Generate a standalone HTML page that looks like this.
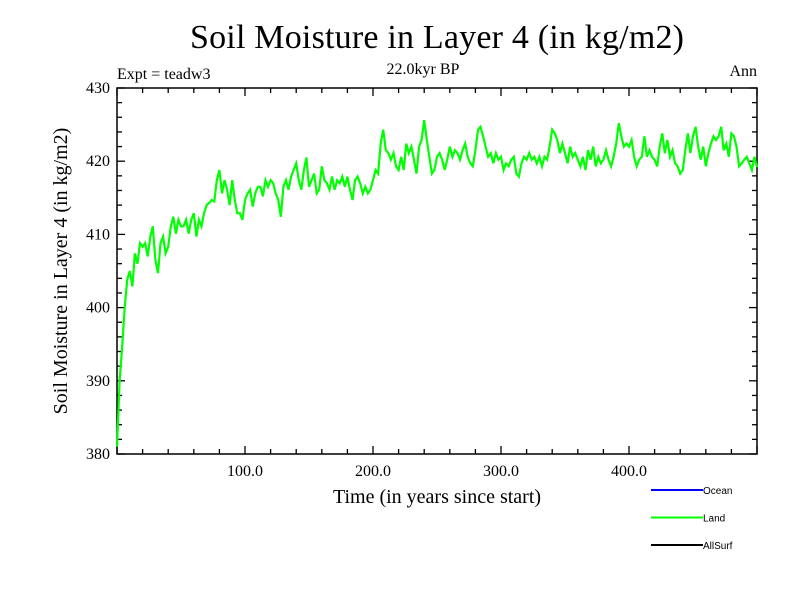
<!DOCTYPE html>
<html><head><meta charset="utf-8"><style>
body{margin:0;background:#fff}
svg text{font-family:"Liberation Serif",serif}
</style></head><body>
<svg id="chart" width="800" height="600" xmlns="http://www.w3.org/2000/svg">
<rect width="800" height="600" fill="#fff"/>
<text x="437" y="48" font-size="34" text-anchor="middle" textLength="494">Soil Moisture in Layer 4 (in kg/m2)</text>
<text x="117" y="79" font-size="16">Expt = teadw3</text>
<text x="423" y="74" font-size="16" text-anchor="middle">22.0kyr BP</text>
<text x="757" y="76" font-size="16" text-anchor="end">Ann</text>
<text x="437" y="503" font-size="20" text-anchor="middle">Time (in years since start)</text>
<text transform="translate(67,271) rotate(-90)" font-size="20" text-anchor="middle">Soil Moisture in Layer 4 (in kg/m2)</text>
<g id="axes"></g>
<g id="series"></g>
<g id="legend"></g>
</svg>
<script>
const years = [];
const land = [381,390,394.5,400,403.8,405,402.9,407.4,406,408.8,408.3,408.8,407,409.7,411.1,406.5,404.7,408.8,409.7,407.4,408.3,411.1,412.4,410.1,412,411.1,411.1,412,410.1,412,412.9,409.7,412,411.1,412.9,414,414.3,414.7,414.5,417.4,418.8,415.6,417.4,416.1,414,417.4,414.7,412.9,412.9,412,414.7,415.6,416.1,413.8,415.6,416.5,416.5,415.2,417.4,416.5,417.4,417,415.6,414.7,412.4,416.5,417.4,416.1,417.9,418.8,419.7,417.4,416.1,418.8,420.5,416.5,417.4,418.3,415.6,416.1,419.3,417.4,417,416.1,417.9,416.1,417.4,417,417.9,416.5,417.9,416.1,414.7,417.4,417.9,417,415.6,416.5,415.6,416.1,417.4,418.8,418.3,422.4,424.3,421.5,421.1,420.2,421.1,419.3,418.8,420.6,418.8,422.4,421.1,422,420.2,418.3,422,422.9,425.6,422.9,420.6,418.3,418.8,420.6,421.1,420.2,418.8,420.2,422,420.6,421.5,421.1,420.2,421.5,422.4,420.6,419.7,419.3,421.5,424.3,424.7,423.4,422,420.6,421.1,419.7,421.1,420.2,420.6,418.8,419.7,419.3,420.2,420.6,418.3,417.9,419.7,420.6,420.2,421.1,420.2,420.6,419.7,420.6,419.3,420.6,420.2,422,424.3,423.8,422.9,421.1,422.4,421.1,419.7,422,420.6,421.1,420.2,419.3,420.6,418.8,421.5,420.2,422,419.3,420.6,419.7,420.2,421.5,420.2,419.3,420.6,422.4,425.2,423.4,422,422.4,422,422.9,420.6,419.3,420.2,420.6,423.4,420.6,421.5,420.6,420.2,419.3,422,423.8,421.1,422.9,420.6,421.5,419.7,419.3,418.3,418.8,421.5,423.8,421.1,423.4,424.7,422,420.2,422,419.3,421.1,422.4,423.4,422.9,423.4,424.7,421.5,422.4,420.6,423.8,423.4,422,419.3,419.7,420.2,420.6,419.7,418.8,420.6,419.2];
for (let i=0;i<land.length;i++) years.push(i*2);
const xTicks = [100,200,300,400];
const xTickLabels = ["100.0","200.0","300.0","400.0"];
const yTicks = [380,390,400,410,420,430];
const yTickLabels = ["380","390","400","410","420","430"];
const legendNames = ["Ocean","Land","AllSurf"];
const legendColors = ["#0000ff","#00ff00","#000000"];

const L=117,R=757,T=88,B=454,X0=0,X1=500,Y0=380,Y1=430;
const sx=v=>L+(v-X0)/(X1-X0)*(R-L);
const sy=v=>B-(v-Y0)/(Y1-Y0)*(B-T);
const NS="http://www.w3.org/2000/svg";
function mk(tag,attrs,parent){const e=document.createElementNS(NS,tag);for(const k in attrs)e.setAttribute(k,attrs[k]);parent.appendChild(e);return e;}
const axes=document.getElementById('axes');
const frame=mk('rect',{x:L,y:T,width:R-L,height:B-T,fill:'none',stroke:'#000','stroke-width':1.5},axes);


for(let v=0;v<=500;v+=20){
  const major=v%100===0, len=major?8:5, x=sx(v);
  const t1=mk('line',{x1:x,y1:B,x2:x,y2:B-len,stroke:'#000','stroke-width':1.3},axes);
  
  
  const t2=mk('line',{x1:x,y1:T,x2:x,y2:T+len,stroke:'#000','stroke-width':1.3},axes);
  
  
}
for(let v=380;v<=430;v+=2){
  const major=v%10===0, len=major?8:5, y=sy(v);
  const t1=mk('line',{x1:L,y1:y,x2:L+len,y2:y,stroke:'#000','stroke-width':1.3},axes);
  
  
  const t2=mk('line',{x1:R,y1:y,x2:R-len,y2:y,stroke:'#000','stroke-width':1.3},axes);
  
  
}
xTicks.forEach((v,i)=>{const t=mk('text',{x:sx(v),y:B+22,'font-size':16,'text-anchor':'middle'},axes);t.textContent=xTickLabels[i];
  
  });
yTicks.forEach((v,i)=>{const t=mk('text',{x:L-7,y:sy(v)+5,'font-size':16,'text-anchor':'end'},axes);t.textContent=yTickLabels[i];
  
  });
const ser=document.getElementById('series');
let d='';land.forEach((v,i)=>{d+=(i?'L':'M')+sx(years[i]).toFixed(1)+','+sy(v).toFixed(1);});
const p=mk('path',{d:d,fill:'none',stroke:'#00ff00','stroke-width':2.2,'stroke-linejoin':'miter'},ser);


const lg=document.getElementById('legend');
legendNames.forEach((n,i)=>{const y=490+i*27.5;
  const ln=mk('line',{x1:651,y1:y,x2:703,y2:y,stroke:legendColors[i],'stroke-width':2},lg);
  
  
  const t=mk('text',{x:703,y:y+4,'font-size':10,style:'font-family:"Liberation Sans",sans-serif'},lg);t.textContent=n;
  
  });
</script>
</body></html>
